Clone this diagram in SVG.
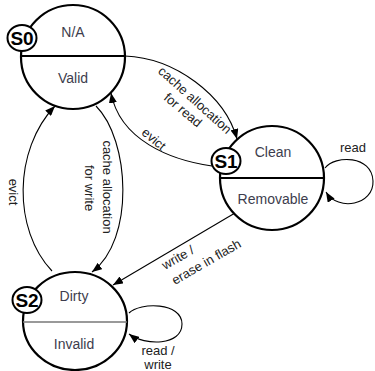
<svg xmlns="http://www.w3.org/2000/svg" width="375" height="371" viewBox="0 0 375 371">
<style>
.big{fill:#fff;stroke:#000;stroke-width:2.2}
.tag{fill:#fff;stroke:#000;stroke-width:2}
.div{stroke:#000;stroke-width:1.8}
.tagt{font-family:"Liberation Sans",Arial,sans-serif;font-size:19px;font-weight:bold;fill:#000;text-anchor:middle}
.nt{font-family:"Liberation Sans",Arial,sans-serif;font-size:14px;fill:#3d3d4d;text-anchor:middle}
.et{font-family:"Liberation Sans",Arial,sans-serif;font-size:13px;fill:#222}
.mid{text-anchor:middle}
.edge{fill:none;stroke:#000;stroke-width:1.1;marker-end:url(#ah)}
</style>
<defs>
<marker id="ah" markerUnits="userSpaceOnUse" markerWidth="10" markerHeight="8" refX="10" refY="4" orient="auto">
<path d="M0,0 L10,4 L0,8 z" fill="#000"/>
</marker>
</defs>
<g id="connectors">
<path class="edge" d="M125,56 C175,58 225,95 237,139"/>
<path class="edge" d="M212,166 C170,160 120,140 111,93"/>
<path class="edge" d="M96,106 C130,140 135,240 92,272"/>
<path class="edge" d="M52,271 C13,230 13,150 55,106"/>
<path class="edge" d="M235,213 L113,285"/>
<path class="edge" d="M325,168 C335,155 372,155 373,181 C374,205 338,212 326,192"/>
<path class="edge" d="M129,313 C140,302 182,302 182,324 C182,346 145,346 129,334"/>
<text class="et mid" transform="translate(195,100) rotate(42)" y="4.5">cache allocation</text>
<text class="et mid" transform="translate(183,110) rotate(40)" y="4.5">for read</text>
<text class="et mid" transform="translate(154,139) rotate(40)" y="4.5">evict</text>
<text class="et mid" transform="translate(107,187) rotate(90)" y="4.5">cache allocation</text>
<text class="et mid" transform="translate(89,188) rotate(90)" y="4.5">for write</text>
<text class="et mid" transform="translate(13,192) rotate(90)" y="4.5">evict</text>
<text class="et" transform="translate(165,270) rotate(-30)">write /</text>
<text class="et" transform="translate(175,285) rotate(-30)">erase in flash</text>
<text class="et mid" x="353" y="152">read</text>
<text class="et mid" x="158" y="355">read /</text>
<text class="et mid" x="158" y="369">write</text>
</g>
<g id="S0">
<circle class="big" cx="73" cy="57" r="52"/>
<line class="div" x1="21" y1="56" x2="125" y2="56"/>
<ellipse class="tag" cx="22" cy="38" rx="14.5" ry="13"/>
<text class="tagt" x="22" y="44.5">S0</text>
<text class="nt" x="73" y="37">N/A</text>
<text class="nt" x="73" y="83">Valid</text>
</g>
<g id="S1">
<circle class="big" cx="272" cy="178" r="52"/>
<line class="div" x1="220" y1="178" x2="324" y2="178"/>
<ellipse class="tag" cx="226" cy="161" rx="14.5" ry="13"/>
<text class="tagt" x="226" y="167.5">S1</text>
<text class="nt" x="273" y="157">Clean</text>
<text class="nt" x="273" y="204">Removable</text>
</g>
<g id="S2">
<ellipse class="big" cx="75" cy="321" rx="52" ry="49"/>
<line x1="23" y1="322" x2="127" y2="322" stroke="#777" stroke-width="1.3"/>
<ellipse class="tag" cx="27" cy="300" rx="14.5" ry="13"/>
<text class="tagt" x="27" y="306.5">S2</text>
<text class="nt" x="74" y="301">Dirty</text>
<text class="nt" x="74" y="349">Invalid</text>
</g>
</svg>
